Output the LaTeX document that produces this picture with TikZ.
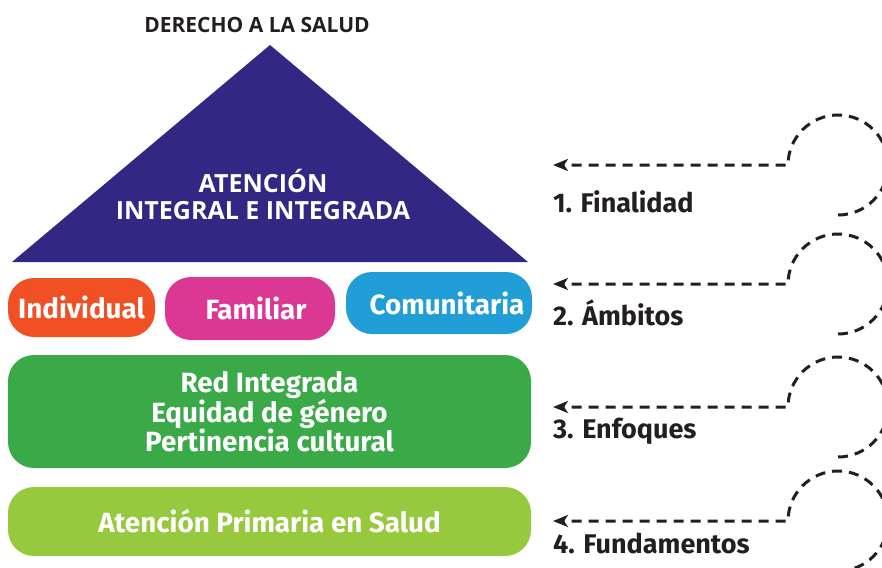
\documentclass[tikz,border=0pt]{standalone}
\usepackage{fontspec}
\setmainfont{Fira Sans}
\newfontfamily\opensans{Open Sans}
\usetikzlibrary{positioning,
                arrows.meta}                % arrow tips

\definecolor{piramide}{RGB}{48,40,130}
\definecolor{individual}{RGB}{240,80,35}
\definecolor{familiar}{RGB}{218,56,147}
\definecolor{comunitaria}{RGB}{33,158,216}
\definecolor{enfoques}{RGB}{58,170,73}
\definecolor{fundamentos}{RGB}{151,201,62}
\definecolor{tinta}{RGB}{35,31,32}

\tikzset{
    pill/.style={rounded corners=26pt, text=white, inner sep=0pt,
                 font=\bfseries\fontsize{27.8}{29}\selectfont},
    etiqueta/.style={anchor=base west, text=tinta, inner sep=0pt,
                 font=\bfseries\fontsize{27}{29}\selectfont},
    rulo/.style={tinta, line width=3pt, dash pattern=on 10pt off 7pt,
                 -{Stealth[length=15pt,width=12pt,inset=4pt]}}
}

\begin{document}
\begin{tikzpicture}[x=1pt,y=-1pt]
        \clip (0,0) rectangle (882,567);

        \node[text=tinta, font=\opensans\bfseries\fontsize{21}{24}\selectfont] (derecho) at (257,25) {DERECHO A LA SALUD};

        % piramide
        \fill[piramide] (12,262) -- (270,45) -- (528,262) -- cycle;
        \node[text=white, align=center, font=\opensans\bfseries\fontsize{25}{27}\selectfont] (atencion) at (263,194) {ATENCIÓN\\INTEGRAL E INTEGRADA};

        % ambitos
        \node[pill, fill=individual, minimum width=147pt, minimum height=59pt] (indiv) at (81.5,307.5) {Individual};
        \node[pill, fill=familiar, minimum width=170pt, minimum height=63pt] (famil) at (250,308.5) {\hspace*{12pt}Familiar};
        \node[pill, fill=comunitaria, minimum width=186pt, minimum height=62pt] (comun) at (439,303) {\hspace*{16pt}Comunitaria};

        % enfoques y fundamentos
        \node[pill, fill=enfoques, align=center, minimum width=523pt, minimum height=113pt] (enfoq) at (269.5,411.5) {Red Integrada\\Equidad de género\\Pertinencia cultural};
        \node[pill, fill=fundamentos, minimum width=523pt, minimum height=69pt] (fundam) at (269.5,521.5) {Atención Primaria en Salud};

        % flechas
        \foreach \y/\b/\t in {165/212/1. Finalidad, 284/325/2. Ámbitos, 407/438/3. Enfoques, 521/553/4. Fundamentos}
        {
            \coordinate (ini\y) at (838,\y+50);
            \coordinate (fin\y) at (553,\y);
            \draw[rulo] (ini\y) arc[start angle=-90, end angle=180, radius=50pt] -- (fin\y);
            \node[etiqueta] (lab\y) at (553,\b) {\t};
        }
\end{tikzpicture}
\end{document}
